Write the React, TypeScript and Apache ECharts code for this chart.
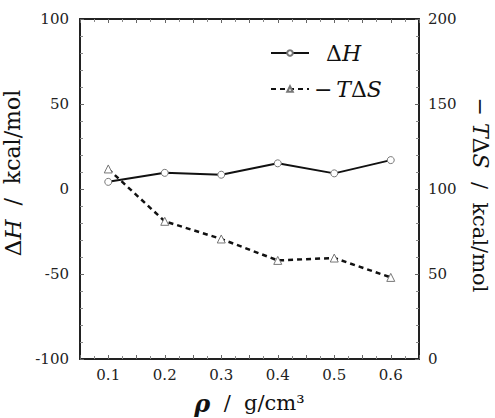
import React, { useEffect, useRef } from "react";
import * as echarts from "echarts";

const rho = [0.1, 0.2, 0.3, 0.4, 0.5, 0.6];
const deltaH = [4.2, 9.5, 8.4, 15.1, 9.2, 17.0];
const minusTdS = [111.8, 81.0, 70.6, 58.0, 59.4, 48.0];

const FONT = "'DejaVu Serif', serif";

export default function App() {
  const ref = useRef<HTMLDivElement>(null);
  useEffect(() => {
    const chart = echarts.init(ref.current!, null, { renderer: "svg" });
    const axisLine = { show: true, onZero: false, lineStyle: { color: "#222", width: 2 } };
    const tick = { show: true, inside: true, length: 4, lineStyle: { color: "#666", width: 1 } };
    const minor = { show: true, splitNumber: 5, length: 3, lineStyle: { color: "#888", width: 1 } };
    const xMinor = { show: true, splitNumber: 2, length: 3, lineStyle: { color: "#888", width: 1 } };
    const xLabelFmt = (v: any) => {
      const r = Math.round(Number(v) * 100);
      return r % 10 === 0 ? (r / 100).toFixed(1) : "";
    };
    const option: any = {
      animation: false,
      backgroundColor: "#fff",
      grid: { left: 80, right: 76, top: 19, bottom: 59, outerBoundsMode: "none", containLabel: false },
      legend: [
        {
          data: ["ΔH"],
          left: 265,
          top: 37,
          itemWidth: 38,
          itemHeight: 7,
          formatter: () => "{a|Δ}{i|H}",
          textStyle: {
            padding: [0, 0, 0, 12],
            rich: {
              a: { fontFamily: FONT, fontSize: 22, color: "#111" },
              i: { fontFamily: FONT, fontSize: 22, fontStyle: "italic", color: "#111" },
            },
          },
        },
        {
          data: ["−TΔS"],
          left: 265,
          top: 73,
          itemWidth: 38,
          itemHeight: 7,
          formatter: () => "{a|−}{s| }{i|T}{a|Δ}{i|S}",
          textStyle: {
            padding: [0, 0, 0, 0],
            rich: {
              a: { fontFamily: FONT, fontSize: 22, color: "#111" },
              s: { fontFamily: FONT, fontSize: 12, color: "#111" },
              i: { fontFamily: FONT, fontSize: 22, fontStyle: "italic", color: "#111" },
            },
          },
        },
      ],
      xAxis: [
        {
          type: "value",
          min: 0.05,
          max: 0.65,
          interval: 0.05,
          position: "bottom",
          axisLine,
          axisTick: tick,
          minorTick: xMinor,
          splitLine: { show: false },
          axisLabel: {
            fontFamily: FONT,
            fontSize: 15,
            color: "#222",
            margin: 8,
            formatter: xLabelFmt,
          },
          name: "{r|ρ}{n|  /  g/cm³}",
          nameLocation: "middle",
          nameGap: 32,
          nameTextStyle: {
            rich: {
              r: { fontFamily: FONT, fontSize: 24, fontStyle: "italic", fontWeight: "bold", color: "#111" },
              n: { fontFamily: FONT, fontSize: 21, color: "#111" },
            },
          },
        },
        {
          type: "value",
          min: 0.05,
          max: 0.65,
          interval: 0.05,
          position: "top",
          axisLine,
          axisTick: tick,
          minorTick: xMinor,
          splitLine: { show: false },
          axisLabel: { show: false },
        },
      ],
      yAxis: [
        {
          type: "value",
          min: -100,
          max: 100,
          interval: 50,
          position: "left",
          axisLine,
          axisTick: tick,
          minorTick: minor,
          splitLine: { show: false },
          axisLabel: { fontFamily: FONT, fontSize: 15, color: "#222", margin: 11 },
          name: "{a|Δ}{i|H}{n|  /  kcal/mol}",
          nameLocation: "middle",
          nameGap: 41,
          nameTextStyle: {
            padding: [0, 0, 0, 32],
            rich: {
              a: { fontFamily: FONT, fontSize: 23, color: "#111" },
              i: { fontFamily: FONT, fontSize: 23, fontStyle: "italic", color: "#111" },
              n: { fontFamily: FONT, fontSize: 22, color: "#111" },
            },
          },
        },
        {
          type: "value",
          min: 0,
          max: 200,
          interval: 50,
          position: "right",
          axisLine,
          axisTick: tick,
          minorTick: minor,
          splitLine: { show: false },
          axisLabel: { fontFamily: FONT, fontSize: 15, color: "#222", margin: 9 },
          name: "{a|− }{i|T}{a|Δ}{i|S}{n|  /  kcal/mol}",
          nameLocation: "middle",
          nameRotate: -90,
          nameGap: 50,
          nameTextStyle: {
            padding: [0, 0, 0, 12],
            rich: {
              a: { fontFamily: FONT, fontSize: 22, color: "#111" },
              i: { fontFamily: FONT, fontSize: 22, fontStyle: "italic", color: "#111" },
              n: { fontFamily: FONT, fontSize: 21, color: "#111" },
            },
          },
        },
      ],
      series: [
        {
          name: "ΔH",
          type: "line",
          xAxisIndex: 0,
          yAxisIndex: 0,
          data: rho.map((x, i) => [x, deltaH[i]]),
          symbol: "circle",
          symbolSize: 7,
          showAllSymbol: true,
          lineStyle: { color: "#111", width: 2 },
          itemStyle: { color: "#fff", borderColor: "#777", borderWidth: 1 },
          z: 3,
        },
        {
          name: "−TΔS",
          type: "line",
          xAxisIndex: 0,
          yAxisIndex: 1,
          data: rho.map((x, i) => [x, minusTdS[i]]),
          symbol: "triangle",
          symbolSize: 8,
          showAllSymbol: true,
          lineStyle: { color: "#111", width: 2.5, type: [5, 4] },
          itemStyle: { color: "#fff", borderColor: "#777", borderWidth: 1 },
          z: 2,
        },
      ],
    };
    chart.setOption(option);
    return () => chart.dispose();
  }, []);
  return (
    <div
      ref={ref}
      style={{ position: "fixed", left: 0, top: 0, width: 495, height: 418, background: "#fff" }}
    />
  );
}
